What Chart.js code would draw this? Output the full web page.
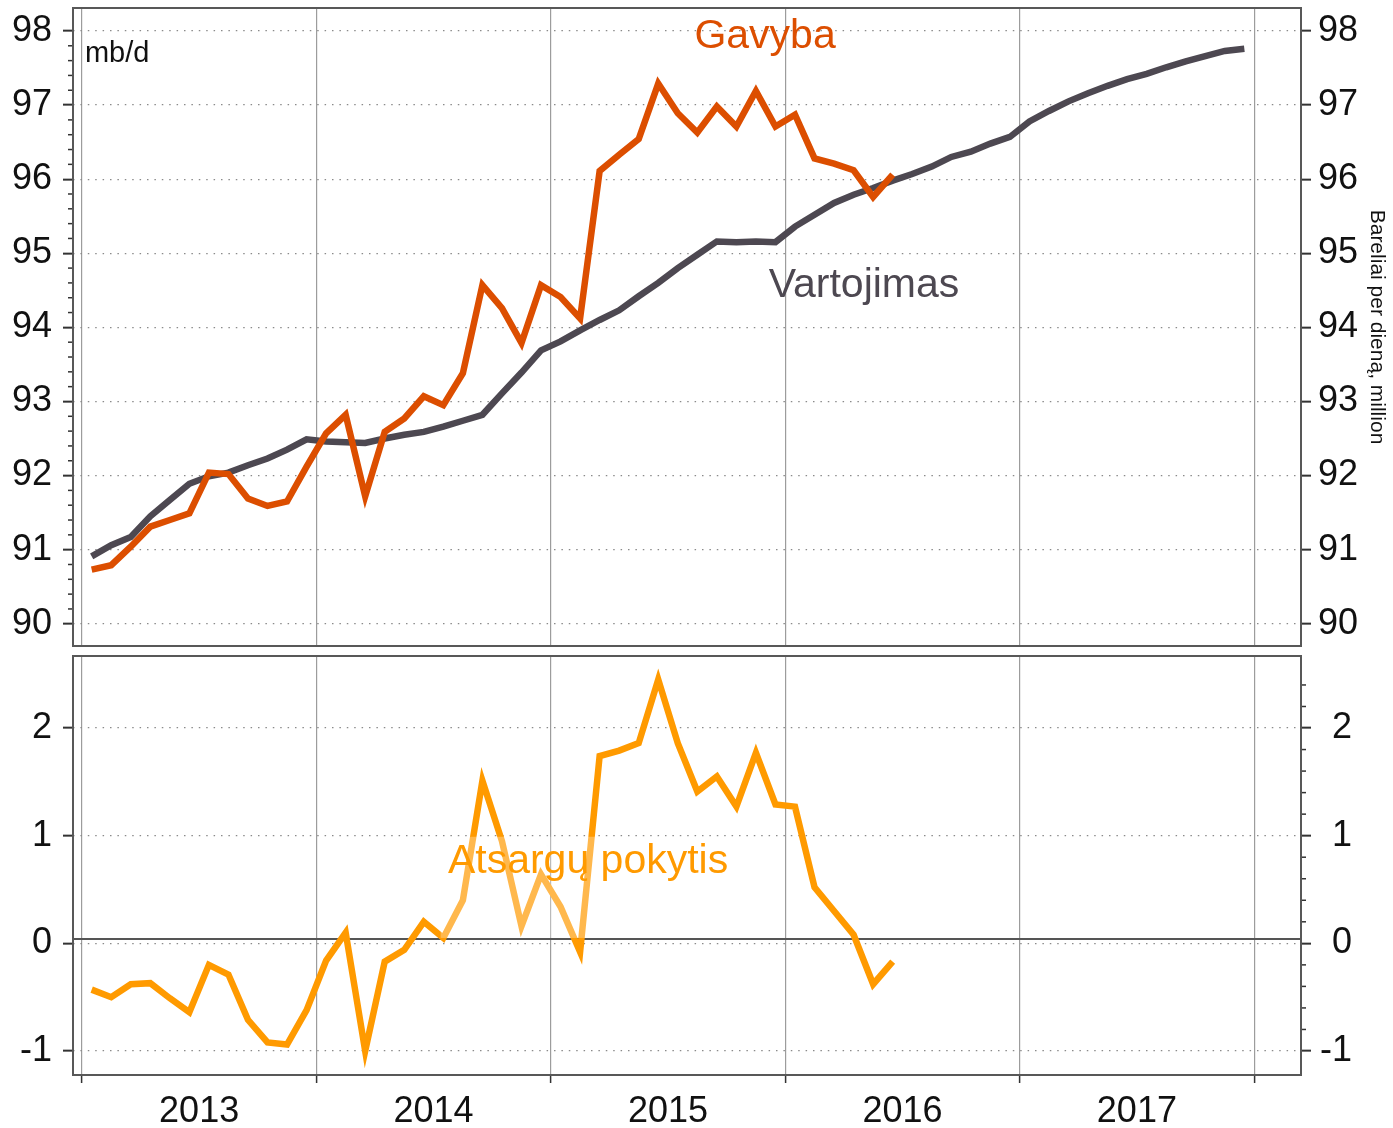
<!DOCTYPE html>
<html>
<head>
<meta charset="utf-8">
<script src="https://cdn.jsdelivr.net/npm/chart.js@4.4.0/dist/chart.umd.min.js"></script>
<style>
  body { margin: 0; background: #fff; }
  canvas { position: absolute; left: 0; }
</style>
</head>
<body>
<canvas id="topChart" width="1393" height="651" style="top:0px"></canvas>
<canvas id="bottomChart" width="1393" height="477" style="top:651px"></canvas>
<script>
// data, monthly from Jan 2013
const startYear = 2013
const yearTicks = [2013, 2014, 2015, 2016, 2017, 2018]
const yearLabels = ['2013', '2014', '2015', '2016', '2017']
const topTicks = [90, 91, 92, 93, 94, 95, 96, 97, 98]
const bottomTicks = [-1, 0, 1, 2]

const gavyba = [
  90.73, 90.79, 91.04, 91.31, 91.40, 91.49, 92.04, 92.02, 91.69, 91.59, 91.65, 92.12,
  92.57, 92.82, 91.72, 92.59, 92.77, 93.07, 92.95, 93.38, 94.57, 94.26, 93.79, 94.57,
  94.41, 94.12, 96.11, 96.33, 96.54, 97.29, 96.89, 96.63, 96.98, 96.71, 97.19, 96.71,
  96.87, 96.28, 96.21, 96.12, 95.76, 96.06
]
const vartojimas = [
  90.91, 91.06, 91.17, 91.45, 91.67, 91.89, 91.99, 92.04, 92.14, 92.23, 92.35, 92.49,
  92.46, 92.45, 92.44, 92.50, 92.55, 92.59, 92.66, 92.74, 92.82, 93.11, 93.39, 93.69,
  93.81, 93.96, 94.10, 94.23, 94.42, 94.60, 94.80, 94.98, 95.16, 95.15, 95.16, 95.15,
  95.36, 95.52, 95.68, 95.79, 95.88, 95.98, 96.07, 96.17, 96.30, 96.37, 96.48, 96.57,
  96.78, 96.92, 97.05, 97.16, 97.26, 97.35, 97.42, 97.51, 97.59, 97.66, 97.73, 97.76
]
const atsargos = [
  -0.43, -0.50, -0.38, -0.37, -0.51, -0.64, -0.20, -0.29, -0.71, -0.92, -0.94, -0.62,
  -0.16, 0.10, -1.00, -0.17, -0.06, 0.20, 0.05, 0.40, 1.51, 0.95, 0.16, 0.64,
  0.34, -0.08, 1.74, 1.79, 1.86, 2.45, 1.86, 1.41, 1.55, 1.27, 1.77, 1.29,
  1.27, 0.52, 0.30, 0.08, -0.38, -0.17
]

const FONT = "'Liberation Sans', Arial, sans-serif"
Chart.defaults.font.family = FONT
Chart.defaults.color = '#111'

const cGavyba = '#dc4e00'
const cVartojimas = '#4d4851'
const cAtsargos = '#ff9a00'
const dotted = [1.5, 5.9]
const tickFont = { size: 36 }

function monthPoints(values) {
  return values.map((v, i) => ({ x: startYear + (i + 0.5) / 12, y: v }))
}

function lineSet(label, values, color) {
  return {
    label: label,
    data: monthPoints(values),
    borderColor: color,
    borderWidth: 6.5,
    pointRadius: 0,
    tension: 0,
    borderJoinStyle: 'miter',
    borderCapStyle: 'butt'
  }
}

function xAxis(showLabels) {
  return {
    type: 'linear',
    min: 2012.962,
    max: 2018.2,
    afterBuildTicks: s => {
      let t = yearTicks.map(v => ({ value: v }))
      yearLabels.forEach(l => t.push({ value: Number(l) + 0.5 }))
      s.ticks = t.sort((a, b) => a.value - b.value)
    },
    grid: {
      color: c => Number.isInteger(c.tick.value) ? '#9c9c9c' : 'rgba(0,0,0,0)',
      lineWidth: 1.2,
      drawTicks: showLabels,
      tickLength: 8,
      tickWidth: 1.5,
      tickColor: c => Number.isInteger(c.tick.value) ? '#333' : 'rgba(0,0,0,0)'
    },
    border: { display: false },
    ticks: {
      display: showLabels,
      autoSkip: false,
      maxRotation: 0,
      padding: 7,
      font: { size: 36 },
      callback: v => Number.isInteger(v) ? '' : String(Math.floor(v))
    },
    afterFit: s => {
      s.height = showLabels ? 53 : 5
      s.paddingLeft = 0
      s.paddingRight = 0
    }
  }
}

function yAxis(pos, min, max, tickList, extra) {
  let ax = {
    position: pos,
    min: min,
    max: max,
    afterBuildTicks: s => { s.ticks = tickList.map(v => ({ value: v })) },
    grid: {
      color: '#8a8a8a',
      lineWidth: 1.3,
      drawOnChartArea: pos === 'left',
      tickLength: 10,
      tickWidth: 2,
      tickColor: '#333'
    },
    border: { display: false, dash: dotted },
    ticks: { padding: pos === 'left' ? 11 : 7, font: tickFont },
    afterFit: s => {
      s.width = extra.width
      s.paddingTop = 0
      s.paddingBottom = 0
    }
  }
  if (extra.title) ax.title = extra.title
  if (extra.crossAlign) ax.ticks.crossAlign = extra.crossAlign
  return ax
}

const framePlugin = {
  id: 'frame',
  afterDraw(chart) {
    const a = chart.chartArea, ctx = chart.ctx
    ctx.save()
    ctx.strokeStyle = '#585858'
    ctx.lineWidth = 2
    ctx.strokeRect(a.left, a.top, a.right - a.left, a.bottom - a.top)
    ctx.restore()
  }
}

function minorTicks(scaleId, from, to, side) {
  return {
    id: 'minor_' + scaleId,
    afterDraw(chart) {
      const s = chart.scales[scaleId], a = chart.chartArea, ctx = chart.ctx
      ctx.save()
      ctx.strokeStyle = '#333'
      ctx.lineWidth = 1.5
      for (let k = Math.round(from * 5); k <= Math.round(to * 5); k++) {
        if (k % 5 === 0) continue
        const y = s.getPixelForValue(k / 5)
        const x0 = side === 'left' ? a.left : a.right
        const x1 = side === 'left' ? a.left - 5 : a.right + 5
        ctx.beginPath()
        ctx.moveTo(x0, y)
        ctx.lineTo(x1, y)
        ctx.stroke()
      }
      ctx.restore()
    }
  }
}

function drawText(chart, text, xv, yv, color, size, align) {
  const ctx = chart.ctx
  ctx.save()
  ctx.fillStyle = color
  ctx.font = size + 'px ' + FONT
  ctx.textAlign = align || 'center'
  ctx.textBaseline = 'middle'
  ctx.fillText(text, chart.scales.x.getPixelForValue(xv), chart.scales.y.getPixelForValue(yv))
  ctx.restore()
}

const topLabels = {
  id: 'topLabels',
  afterDatasetsDraw(chart) {
    drawText(chart, 'Gavyba', 2015.914, 97.92, cGavyba, 41)
    drawText(chart, 'Vartojimas', 2016.336, 94.56, cVartojimas, 41)
    drawText(chart, 'mb/d', 2013.013, 97.69, '#111', 29, 'left')
  }
}

const bottomLabels = {
  id: 'bottomLabels',
  beforeDatasetsDraw(chart) {
    const a = chart.chartArea, ctx = chart.ctx
    const y0 = chart.scales.y.getPixelForValue(0.04)
    ctx.save()
    ctx.strokeStyle = '#555'
    ctx.lineWidth = 2
    ctx.beginPath()
    ctx.moveTo(a.left, y0)
    ctx.lineTo(a.right, y0)
    ctx.stroke()
    ctx.restore()
  },
  afterDatasetsDraw(chart) {
    const sx = chart.scales.x, sy = chart.scales.y, ctx = chart.ctx
    const x0 = sx.getPixelForValue(2014.53), x1 = sx.getPixelForValue(2015.81)
    const y0 = sy.getPixelForValue(0.99), y1 = sy.getPixelForValue(0.05)
    ctx.save()
    ctx.fillStyle = 'rgba(255,255,255,0.3)'
    ctx.fillRect(x0, y0, x1 - x0, y1 - y0)
    ctx.restore()
    drawText(chart, 'Atsargų pokytis', 2015.159, 0.76, cAtsargos, 41)
  }
}

new Chart(document.getElementById('topChart'), {
  type: 'line',
  data: {
    datasets: [
      lineSet('Gavyba', gavyba, cGavyba),
      lineSet('Vartojimas', vartojimas, cVartojimas)
    ]
  },
  options: {
    responsive: false,
    animation: false,
    layout: { padding: { top: 8, left: 0, right: 0, bottom: 0 } },
    plugins: { legend: { display: false }, tooltip: { enabled: false } },
    scales: {
      x: xAxis(false),
      y: yAxis('left', 89.70, 98.31, topTicks, { width: 73 }),
      y2: yAxis('right', 89.70, 98.31, topTicks, {
        width: 92,
        title: {
          display: true,
          text: 'Bareliai per dieną, million',
          font: { size: 21 },
          padding: { top: 4, bottom: 4 }
        }
      })
    }
  },
  plugins: [minorTicks('y', 90, 98, 'left'), topLabels, framePlugin]
})

new Chart(document.getElementById('bottomChart'), {
  type: 'line',
  data: {
    datasets: [lineSet('Atsargų pokytis', atsargos, cAtsargos)]
  },
  options: {
    responsive: false,
    animation: false,
    layout: { padding: { top: 5, left: 0, right: 41, bottom: 0 } },
    plugins: { legend: { display: false }, tooltip: { enabled: false } },
    scales: {
      x: xAxis(true),
      y: yAxis('left', -1.223, 2.669, bottomTicks, { width: 73 }),
      y2: yAxis('right', -1.223, 2.669, bottomTicks, { width: 51, crossAlign: 'far' })
    }
  },
  plugins: [minorTicks('y2', -1, 2.4, 'right'), bottomLabels, framePlugin]
})
</script>
</body>
</html>
